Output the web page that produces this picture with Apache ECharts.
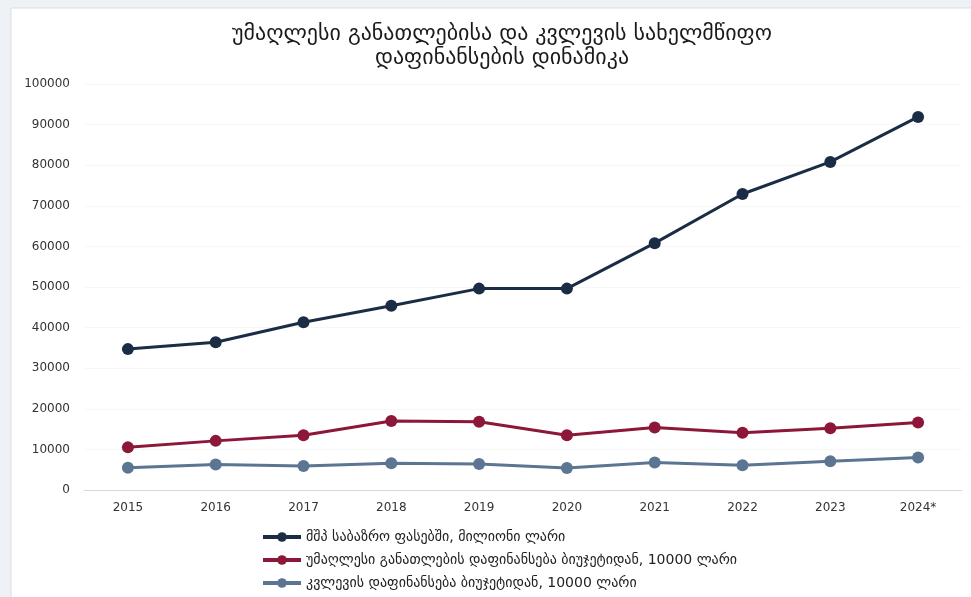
<!DOCTYPE html>
<html>
<head>
<meta charset="utf-8">
<script src="https://cdn.jsdelivr.net/npm/echarts@6/dist/echarts.min.js"></script>
<style>
html,body{margin:0;padding:0;background:#eef2f6;}
#c{width:971px;height:597px;}
</style>
</head>
<body>
<div id="c"></div>
<script>
const categories = ['2015','2016','2017','2018','2019','2020','2021','2022','2023','2024*'];
const seriesNames = [
  'მშპ საბაზრო ფასებში, მილიონი ლარი',
  'უმაღლესი განათლების დაფინანსება ბიუჯეტიდან, 10000 ლარი',
  'კვლევის დაფინანსება ბიუჯეტიდან, 10000 ლარი'
];
const gdp = [34700, 36400, 41300, 45400, 49600, 49600, 60800, 72900, 80800, 91900];
const higherEdu = [10500, 12100, 13500, 17000, 16800, 13500, 15400, 14100, 15200, 16600];
const research = [5500, 6300, 5900, 6600, 6400, 5400, 6800, 6100, 7100, 8000];
const yTicks = {min: 0, max: 100000, interval: 10000};

const colors = ['#1b2d45', '#8c1738', '#5b7592'];
const font = "'DejaVu Sans', 'Noto Sans', sans-serif";

const chart = echarts.init(document.getElementById('c'));
function mk(name, data, color) {
  return {
    name: name, type: 'line', data: data,
    symbol: 'circle', symbolSize: 12,
    lineStyle: {color: color, width: 3},
    itemStyle: {color: color},
    animation: false
  };
}
chart.setOption({
  backgroundColor: '#eef2f6',
  animation: false,
  graphic: [{
    type: 'rect', z: -10, silent: true,
    shape: {x: 11, y: 8, width: 980, height: 620},
    style: {fill: '#ffffff', stroke: '#d9dee4', lineWidth: 1}
  }],
  title: {
    text: 'უმაღლესი განათლებისა და კვლევის სახელმწიფო\nდაფინანსების დინამიკა',
    left: 497, top: 17, textAlign: 'center',
    textStyle: {fontFamily: font, fontSize: 22, fontWeight: 'normal', color: '#1a1a1a', lineHeight: 24}
  },
  legend: {
    orient: 'vertical', left: 256, top: 525, itemGap: 9,
    itemWidth: 38, itemHeight: 12,
    lineStyle: {width: 4},
    data: seriesNames,
    textStyle: {fontFamily: font, fontSize: 14, color: '#222'}
  },
  grid: {left: 84, right: 9, top: 84, bottom: 107},
  xAxis: {
    type: 'category', data: categories, boundaryGap: true,
    axisLine: {lineStyle: {color: '#d9d9d9', width: 1}},
    axisTick: {show: false},
    axisLabel: {fontFamily: font, fontSize: 12, color: '#333', margin: 12}
  },
  yAxis: {
    type: 'value', min: yTicks.min, max: yTicks.max, interval: yTicks.interval,
    axisLine: {show: false}, axisTick: {show: false},
    splitLine: {lineStyle: {color: '#f7f7f7'}},
    axisLabel: {fontFamily: font, fontSize: 12, color: '#333', margin: 14, formatter: function (v) { return String(v); }}
  },
  series: [
    mk(seriesNames[0], gdp, colors[0]),
    mk(seriesNames[1], higherEdu, colors[1]),
    mk(seriesNames[2], research, colors[2])
  ]
});
</script>
</body>
</html>
